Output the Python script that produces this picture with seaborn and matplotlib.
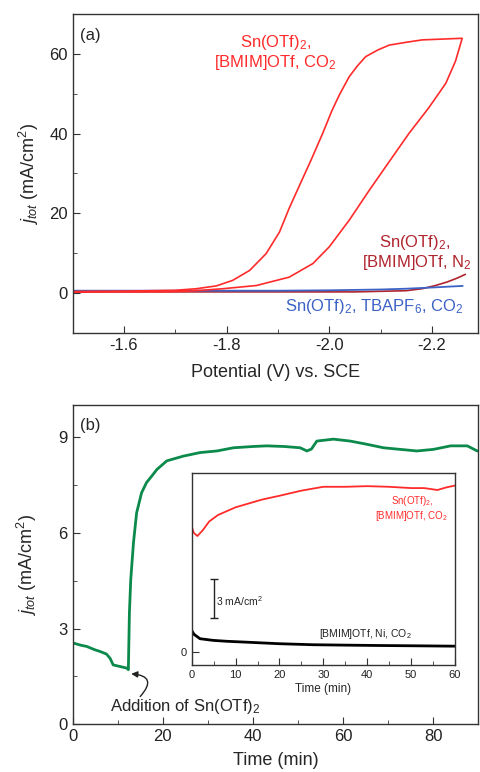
import seaborn as sns
import numpy as np
import matplotlib.pyplot as plt
from matplotlib.ticker import AutoMinorLocator, MultipleLocator

# (a) cyclic voltammograms, potential (V vs SCE) and current density (mA/cm2)
cv_co2_v = [-1.50, -1.60, -1.68, -1.728, -1.793, -1.858, -1.922, -1.968,
            -2.000, -2.039, -2.078, -2.117, -2.155, -2.194, -2.227, -2.246,
            -2.259,
            -2.181, -2.15, -2.117, -2.095, -2.071, -2.055, -2.039, -2.02,
            -2.005, -1.987, -1.965, -1.942, -1.922, -1.903, -1.877, -1.845,
            -1.812, -1.780, -1.741, -1.70, -1.60, -1.50]
cv_co2_j = [0.3, 0.3, 0.35, 0.5, 1.1, 1.9, 4.0, 7.4,
            11.6, 18.3, 25.8, 33.0, 40.0, 46.5, 52.6, 58.2,
            63.9,
            63.5, 62.9, 62.2, 61.0, 59.3, 57.0, 54.3, 49.8,
            45.7, 40.0, 33.5, 27.0, 21.3, 15.3, 9.9, 5.7,
            3.2, 1.8, 1.1, 0.7, 0.5, 0.4]

cv_n2_v = [-1.50, -1.70, -1.90, -2.05, -2.15, -2.181, -2.207, -2.23, -2.25, -2.265]
cv_n2_j = [0.3, 0.3, 0.3, 0.3, 0.6, 1.1, 1.9, 2.8, 3.8, 4.7]

cv_tba_v = [-1.50, -1.70, -1.90, -2.00, -2.10, -2.15, -2.20, -2.26]
cv_tba_j = [0.6, 0.6, 0.6, 0.7, 0.9, 1.1, 1.4, 1.8]

# (b) chronoamperometry, time (min) and current density (mA/cm2)
t_main = [0, 2, 3.1, 5, 6.1, 7.5, 8.3, 9, 10.5, 12, 12.37, 12.6, 12.9, 13.5,
          14.2, 15.3, 16.4, 17.6, 18.7, 20.9, 24.6, 28.3, 32, 35.7, 40,
          43.1, 47, 50.5, 52, 53, 54.2, 57.9, 61.6, 65.3, 69, 72.7, 76.4,
          80.1, 83.9, 87.6, 89.8]
j_main = [2.55, 2.47, 2.44, 2.33, 2.28, 2.2, 2.07, 1.86, 1.81, 1.76, 1.71,
          3.48, 4.53, 5.68, 6.62, 7.25, 7.57, 7.78, 7.98, 8.25, 8.40, 8.51,
          8.56, 8.66, 8.70, 8.72, 8.70, 8.66, 8.56, 8.62, 8.87, 8.93, 8.87,
          8.77, 8.66, 8.61, 8.56, 8.61, 8.72, 8.72, 8.56]

# inset
t_in_red = [0, 0.5, 1.3, 2.5, 4, 6, 8, 10, 13, 16, 20, 25, 30, 35, 40, 45,
            50, 53, 56, 58, 60]
j_in_red = [9.8, 9.3, 9.06, 9.5, 10.2, 10.7, 11.0, 11.3, 11.6, 11.9, 12.2,
            12.6, 12.9, 12.9, 12.95, 12.9, 12.8, 12.8, 12.65, 12.85, 13.0]
t_in_blk = [0, 0.5, 1.9, 4.9, 8, 12.5, 20, 27.7, 35, 42.9, 50, 59.6, 60]
j_in_blk = [1.7, 1.4, 1.05, 0.92, 0.85, 0.78, 0.66, 0.58, 0.55, 0.52, 0.5,
            0.47, 0.47]

sns.set_style("ticks")
plt.rcParams['font.family'] = ['Liberation Sans', 'DejaVu Sans']
plt.rcParams['mathtext.fontset'] = 'custom'
plt.rcParams['mathtext.rm'] = 'Liberation Sans'
plt.rcParams['mathtext.it'] = 'Liberation Sans:italic'

c_red = "#ff2b2b"
c_dred = "#b0242e"
c_blue = "#3b62c4"
c_green = "#0b8a4c"
spine_c = "#333333"

fig = plt.figure(figsize=(4.81, 7.72), dpi=100)
ax1 = fig.add_axes([0.151, 0.5687, 0.843, 0.4132])
ax2 = fig.add_axes([0.151, 0.0618, 0.843, 0.4136])
ax3 = fig.add_axes([0.3985, 0.1386, 0.5474, 0.2491])


def style(ax, size):
    for s in ax.spines.values():
        s.set_color(spine_c)
        s.set_linewidth(1.0)
    ax.tick_params(which='both', direction='in', top=False, right=False,
                   colors=spine_c, labelcolor='#222222', labelsize=size)
    ax.tick_params(which='major', length=5)
    ax.tick_params(which='minor', length=3)


# ---- (a)
sns.lineplot(x=cv_n2_v, y=cv_n2_j, ax=ax1, color=c_dred, lw=1.2,
             sort=False, estimator=None)
sns.lineplot(x=cv_tba_v, y=cv_tba_j, ax=ax1, color=c_blue, lw=1.3,
             sort=False, estimator=None)
sns.lineplot(x=cv_co2_v, y=cv_co2_j, ax=ax1, color=c_red, lw=1.2,
             sort=False, estimator=None)
ax1.set_xlim(-1.5, -2.29)
ax1.set_ylim(-10, 70)
ax1.yaxis.set_major_locator(MultipleLocator(20))
ax1.yaxis.set_minor_locator(AutoMinorLocator(2))
ax1.set_xticks([-1.6, -1.8, -2.0, -2.2])
ax1.set_xticklabels(["-1.6", "-1.8", "-2.0", "-2.2"])
ax1.xaxis.set_minor_locator(MultipleLocator(0.1))
style(ax1, 12)
ax1.set_xlabel("Potential (V) vs. SCE", fontsize=13, labelpad=8)
ax1.set_ylabel(r"$j_{tot}$ (mA/cm$^2$)", fontsize=13, labelpad=6)
ax1.text(0.018, 0.955, "(a)", transform=ax1.transAxes, fontsize=12,
         va='top', ha='left')
ax1.text(-1.895, 61.8, "Sn(OTf)$_2$,", color=c_red, fontsize=12, ha='center')
ax1.text(-1.895, 56.8, "[BMIM]OTf, CO$_2$", color=c_red, fontsize=12,
         ha='center')
ax1.text(-2.235, 11.6, "Sn(OTf)$_2$,", color=c_dred, fontsize=12, ha='right')
ax1.text(-2.277, 6.5, "[BMIM]OTf, N$_2$", color=c_dred, fontsize=12,
         ha='right')
ax1.text(-2.262, -4.4, "Sn(OTf)$_2$, TBAPF$_6$, CO$_2$", color=c_blue,
         fontsize=12, ha='right')

# ---- (b)
sns.lineplot(x=t_main, y=j_main, ax=ax2, color=c_green, lw=2.0,
             sort=False, estimator=None)
ax2.set_xlim(0, 90)
ax2.set_ylim(0, 10)
ax2.xaxis.set_major_locator(MultipleLocator(20))
ax2.xaxis.set_minor_locator(AutoMinorLocator(2))
ax2.yaxis.set_major_locator(MultipleLocator(3))
ax2.yaxis.set_minor_locator(AutoMinorLocator(2))
style(ax2, 12)
ax2.set_xlabel("Time (min)", fontsize=13, labelpad=6)
ax2.set_ylabel(r"$j_{tot}$ (mA/cm$^2$)", fontsize=13, labelpad=14)
ax2.text(0.018, 0.96, "(b)", transform=ax2.transAxes, fontsize=12,
         va='top', ha='left')
ax2.text(8.3, 0.42, "Addition of Sn(OTf)$_2$", fontsize=12, ha='left',
         va='baseline')
ax2.annotate("", xy=(13.0, 1.58), xytext=(15.0, 0.87),
             arrowprops=dict(arrowstyle='-|>', color='#222222', lw=1.0,
                             shrinkA=0, shrinkB=0, mutation_scale=9,
                             connectionstyle="arc3,rad=1.0"))

# ---- inset
sns.lineplot(x=t_in_red, y=j_in_red, ax=ax3, color=c_red, lw=1.3,
             sort=False, estimator=None)
sns.lineplot(x=t_in_blk, y=j_in_blk, ax=ax3, color='black', lw=2.0,
             sort=False, estimator=None)
ax3.set_xlim(0, 60)
ax3.set_ylim(-1, 14)
ax3.xaxis.set_major_locator(MultipleLocator(10))
ax3.xaxis.set_minor_locator(AutoMinorLocator(2))
ax3.set_yticks([0])
style(ax3, 8)
ax3.set_xlabel("Time (min)", fontsize=8.5, labelpad=2)
ax3.set_ylabel("")
ax3.errorbar([5], [4.2], yerr=[1.5], color='#222222', capsize=3, lw=1.0)
ax3.text(5.6, 4.0, "3 mA/cm$^2$", fontsize=7.5, va='center')
ax3.text(50.2, 11.8, "Sn(OTf)$_2$,", color=c_red, fontsize=7, ha='center',
         va='center')
ax3.text(50.0, 10.6, "[BMIM]OTf, CO$_2$", color=c_red, fontsize=7,
         ha='center', va='center')
ax3.text(39.5, 1.2, "[BMIM]OTf, Ni, CO$_2$", color='#222222', fontsize=7.5,
         ha='center')

fig.savefig("out.png", dpi=100)
